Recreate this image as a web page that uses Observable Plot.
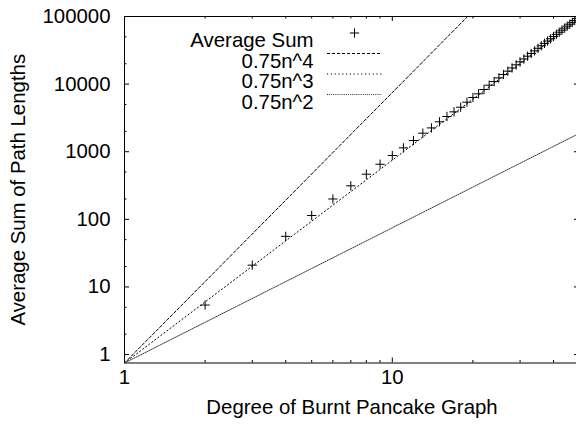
<!DOCTYPE html>
<html>
<head>
<meta charset="utf-8">
<script src="https://cdn.jsdelivr.net/npm/d3@7"></script>
<script src="https://cdn.jsdelivr.net/npm/@observablehq/plot@0.6"></script>
<style>
  html, body { margin: 0; padding: 0; background: white; overflow: hidden; }
  #chart svg { overflow: hidden; display: block; }
</style>
</head>
<body>
<div id="chart"></div>
<script>
// ---- data ----
const degrees = [2,3,4,5,6,7,8,9,10,11,12,13,14,15,16,17,18,19,20,21,22,23,24,25,26,27,28,29,30,31,32,33,34,35,36,37,38,39,40,41,42,43,44,45,46,47,48,49,50];
const averageSum = [5.4,21,56,114,200,313,465,653,880,1140,1465,1880,2250,2770,3320,3890,4550,5400,6340,7190,8320,9640,10900,12340,13880,15550,17340,19270,21330,23530,25890,28390,31050,33870,36860,40020,43350,46860,50560,54450,58530,62810,67300,71990,76900,82020,87370,92940,98750];
const refN = [1, 50];
const refN4 = [0.75, 4687500];
const refN3 = [0.75, 93750];
const refN2 = [0.75, 1875];
const legendLabels = ["Average Sum", "0.75n^4", "0.75n^3", "0.75n^2"];
const yTickValues = [1, 10, 100, 1000, 10000, 100000];
const yTickLabels = ["1", "10", "100", "1000", "10000", "100000"];
const yMinorTicks = [2, 5, 20, 50, 200, 500, 2000, 5000, 20000, 50000];
const xTickValues = [1, 10];
const xTickLabels = ["1", "10"];
const xMinorTicks = [2, 3, 4, 5, 6, 7, 8, 9, 20, 30, 40];
const xLabel = "Degree of Burnt Pancake Graph";
const yLabel = "Average Sum of Path Lengths";

// ---- tables ----
const points = degrees.map((d, i) => ({n: d, v: averageSum[i]}));
const mk = (arr) => refN.map((d, i) => ({n: d, v: arr[i]}));
const line4 = mk(refN4), line3 = mk(refN3), line2 = mk(refN2);

const W = 576, H = 429;
const mL = 124, mT = 16, mR = -3, mB = 66.5;
const pw = W - mL - mR;       // plot width in px
const ph = H - mT - mB;       // plot height in px
const maj = 5, mnr = 2.5;

const dashes = ["3,2", "1.2,2.6", "1,1.1"];
const strokes = ["black", "black", "#333"];
const legendDy = [16.5, 37, 57.5, 78];

const legendMarks = [];
legendLabels.forEach((label, i) => {
  legendMarks.push(Plot.text([label], {text: d => d, frameAnchor: "top-left", textAnchor: "end", dx: 189, dy: legendDy[i], fill: "black"}));
});
legendMarks.push(Plot.dot([legendLabels[0]], {frameAnchor: "top-left", dx: 230, dy: legendDy[0], symbol: "plus", r: 3.1, stroke: "black", strokeWidth: 1}));
for (let k = 0; k < 3; k++) {
  legendMarks.push(Plot.tickY([100000], {y: d => d, dy: legendDy[k + 1], insetLeft: 203, insetRight: pw - 258, stroke: strokes[k], strokeDasharray: dashes[k]}));
}

const chart = Plot.plot({
  width: W,
  height: H,
  marginLeft: mL,
  marginTop: mT,
  marginRight: mR,
  marginBottom: mB,
  style: {fontFamily: "'Liberation Sans', Arial, Helvetica, sans-serif", fontSize: "20.4px", background: "white", overflow: "hidden", color: "black"},
  x: {type: "log", domain: [1, 50], axis: null},
  y: {type: "log", domain: [0.75, 100000], axis: null},
  marks: [
    // reference lines
    Plot.line(line4, {x: "n", y: "v", stroke: strokes[0], strokeWidth: 1, strokeDasharray: dashes[0], clip: true}),
    Plot.line(line3, {x: "n", y: "v", stroke: strokes[1], strokeWidth: 1, strokeDasharray: dashes[1], clip: true}),
    Plot.line(line2, {x: "n", y: "v", stroke: strokes[2], strokeWidth: 1, strokeDasharray: dashes[2], clip: true}),
    // data points
    Plot.dot(points, {x: "n", y: "v", symbol: "plus", r: 3.1, stroke: "black", strokeWidth: 1, clip: true}),
    // y ticks (left, inward) and mirrored (right)
    Plot.tickY(yTickValues, {y: d => d, stroke: "black", insetRight: pw - maj}),
    Plot.tickY(yTickValues, {y: d => d, stroke: "black", insetLeft: pw - maj}),
    Plot.tickY(yMinorTicks, {y: d => d, stroke: "black", insetRight: pw - mnr}),
    Plot.tickY(yMinorTicks, {y: d => d, stroke: "black", insetLeft: pw - mnr}),
    // x ticks (bottom, inward) and mirrored (top)
    Plot.tickX(xTickValues, {x: d => d, stroke: "black", insetTop: ph - maj}),
    Plot.tickX(xTickValues, {x: d => d, stroke: "black", insetBottom: ph - maj}),
    Plot.tickX(xMinorTicks, {x: d => d, stroke: "black", insetTop: ph - mnr}),
    Plot.tickX(xMinorTicks, {x: d => d, stroke: "black", insetBottom: ph - mnr}),
    // frame
    Plot.frame({stroke: "black", strokeWidth: 1}),
    // tick labels
    Plot.text(yTickValues, {y: d => d, text: (d, i) => yTickLabels[i], frameAnchor: "left", textAnchor: "end", dx: -14, fill: "black"}),
    Plot.text(xTickValues, {x: d => d, text: (d, i) => xTickLabels[i], frameAnchor: "bottom", dy: 21, fill: "black"}),
    // axis labels
    Plot.text([yLabel], {text: d => d, frameAnchor: "left", textAnchor: "middle", rotate: -90, dx: -106, fill: "black"}),
    Plot.text([xLabel], {text: d => d, frameAnchor: "bottom", textAnchor: "middle", dy: 50.5, fill: "black"}),
    ...legendMarks
  ]
});
document.getElementById("chart").appendChild(chart);
</script>
</body>
</html>
